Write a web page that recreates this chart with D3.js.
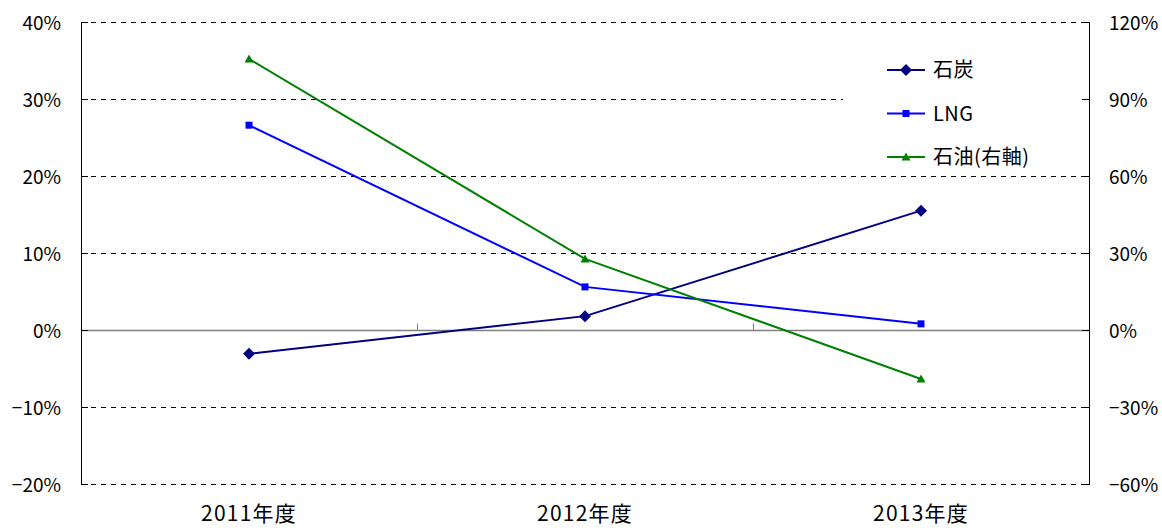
<!DOCTYPE html>
<html><head><meta charset="utf-8">
<script src="https://cdn.jsdelivr.net/npm/d3@7"></script>
<style>body{margin:0;background:#fff}svg{display:block;font-family:"Noto Sans CJK JP",sans-serif}</style>
</head><body><svg id="c" width="1162" height="528"></svg>
<script>
const categories = ["2011年度","2012年度","2013年度"];
const coal = [-3.1, 1.8, 15.5];
const lng = [26.6, 5.6, 0.8];
const oil = [105.6, 27.7, -19.1];
const leftTicks = [-20,-10,0,10,20,30,40];
const rightTicks = [-60,-30,0,30,60,90,120];
const seriesNames = ["石炭","LNG","石油(右軸)"];

const svg = d3.select("#c");
const L = 81, R = 1089, T = 22, B = 484;
const x = d3.scaleBand().domain(categories).range([L,R]);
const yL = d3.scaleLinear().domain([-20,40]).range([B,T]);
const yR = d3.scaleLinear().domain([-60,120]).range([B,T]);
const fmt = v => (v<0 ? "\u2212"+(-v) : v) + "%";

// grid
leftTicks.forEach(v=>{
  if(v===0) return;
  svg.append("line").attr("x1",L).attr("x2",R).attr("y1",Math.round(yL(v))+0.5).attr("y2",Math.round(yL(v))+0.5)
    .attr("stroke","#000").attr("stroke-dasharray","5,5");
});
// zero line
const y0 = Math.round(yL(0))+0.5;
svg.append("line").attr("x1",L).attr("x2",R).attr("y1",y0).attr("y2",y0).attr("stroke","#808080").attr("stroke-width",1.3);
categories.slice(1).forEach(c=>{
  const xx = Math.round(x(c))+0.5;
  svg.append("line").attr("x1",xx).attr("x2",xx).attr("y1",y0-7).attr("y2",y0).attr("stroke","#808080");
});

// legend background (covers grid lines)
svg.append("rect").attr("x",843).attr("y",45).attr("width",R-843).attr("height",130.5).attr("fill","#fff");

// left axis
svg.append("line").attr("x1",L+0.5).attr("x2",L+0.5).attr("y1",T).attr("y2",B+0.5).attr("stroke","#000");
leftTicks.forEach(v=>{
  const yy=Math.round(yL(v))+0.5;
  svg.append("line").attr("x1",L).attr("x2",L+7).attr("y1",yy).attr("y2",yy).attr("stroke","#000");
  svg.append("text").attr("x",61).attr("y",yy+7).attr("text-anchor","end").attr("font-size",19).attr("fill","#000").text(fmt(v));
});
// right axis
svg.append("line").attr("x1",R+0.5).attr("x2",R+0.5).attr("y1",T).attr("y2",B+0.5).attr("stroke","#000");
rightTicks.forEach(v=>{
  const yy=Math.round(yR(v))+0.5;
  svg.append("line").attr("x1",R-7).attr("x2",R+1).attr("y1",yy).attr("y2",yy).attr("stroke","#000");
  svg.append("text").attr("x",1109).attr("y",yy+7).attr("text-anchor","start").attr("font-size",19).attr("fill","#000").text(fmt(v));
});
// x labels
categories.forEach(c=>{
  svg.append("text").attr("x",x(c)+x.bandwidth()/2).attr("y",521).attr("text-anchor","middle").attr("font-size",21).attr("letter-spacing",1.2).attr("fill","#000").text(c);
});

const cx = c=>x(c)+x.bandwidth()/2;
const series = [
  {name:seriesNames[0], vals:coal, y:yL, color:"#000080", shape:"diamond"},
  {name:seriesNames[1], vals:lng, y:yL, color:"#0000ff", shape:"square"},
  {name:seriesNames[2], vals:oil, y:yR, color:"#008000", shape:"triangle"}
];
function marker(g, shape, color, px, py){
  if(shape==="diamond") g.append("path").attr("d",`M${px},${py-6}L${px+6},${py}L${px},${py+6}L${px-6},${py}Z`).attr("fill",color);
  else if(shape==="square") g.append("rect").attr("x",px-3.5).attr("y",py-3.5).attr("width",7).attr("height",7).attr("fill",color);
  else g.append("path").attr("d",`M${px},${py-4.5}L${px+4.5},${py+3.5}L${px-4.5},${py+3.5}Z`).attr("fill",color);
}
const line = d3.line();
series.forEach(s=>{
  const pts = categories.map((c,i)=>[cx(c), s.y(s.vals[i])]);
  svg.append("path").attr("d",line(pts)).attr("fill","none").attr("stroke",s.color).attr("stroke-width",2);
  pts.forEach(p=>marker(svg,s.shape,s.color,p[0],p[1]));
});

// legend
series.forEach((s,i)=>{
  const ly = 70 + i*43.5;
  svg.append("line").attr("x1",887).attr("x2",925).attr("y1",ly).attr("y2",ly).attr("stroke",s.color).attr("stroke-width",2);
  marker(svg,s.shape,s.color,906,ly);
  svg.append("text").attr("x",933).attr("y",ly+7).attr("font-size",20).attr("letter-spacing",0.5).attr("fill","#000").text(s.name);
});
</script></body></html>
